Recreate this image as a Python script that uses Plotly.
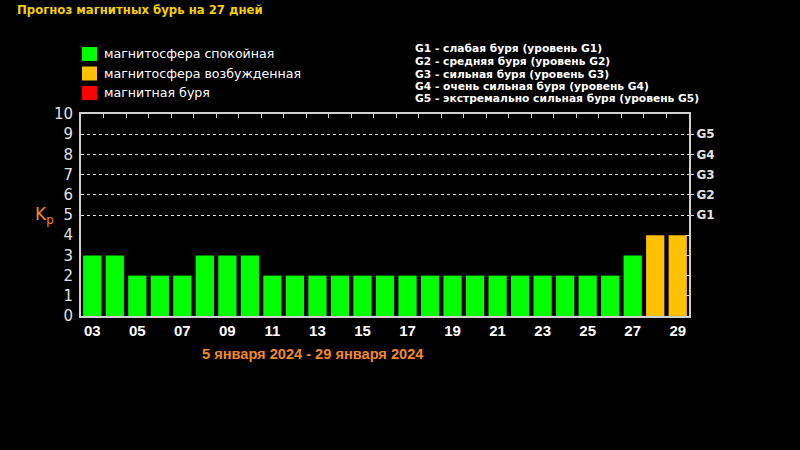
import plotly.graph_objects as go

days = ["03","04","05","06","07","08","09","10","11","12","13","14","15","16","17",
        "18","19","20","21","22","23","24","25","26","27","28","29"]
kp = [3,3,2,2,2,3,3,3,2,2,2,2,2,2,2,2,2,2,2,2,2,2,2,2,3,4,4]
g_levels = [5,6,7,8,9]
g_labels = ["G1","G2","G3","G4","G5"]
legend_text = ["магнитосфера спокойная", "магнитосфера возбужденная", "магнитная буря"]
legend_colors = ["#00ff00", "#ffc000", "#ff0000"]
g_desc = ["G1 - слабая буря (уровень G1)",
          "G2 - средняя буря (уровень G2)",
          "G3 - сильная буря (уровень G3)",
          "G4 - очень сильная буря (уровень G4)",
          "G5 - экстремально сильная буря (уровень G5)"]

def color(v):
    if v <= 3:
        return "#00ff00"
    if v == 4:
        return "#ffc000"
    return "#ff0000"

idx = list(range(len(days)))
fig = go.Figure()
fig.add_trace(go.Bar(x=idx, y=kp, marker=dict(color=[color(v) for v in kp], line=dict(width=0)),
                     hoverinfo="skip", showlegend=False))
fig.add_trace(go.Scatter(x=[0], y=[0], xaxis="x2", yaxis="y2", mode="markers",
                         marker=dict(opacity=0), showlegend=False, hoverinfo="skip"))
fig.add_trace(go.Scatter(x=[0], y=[0], xaxis="x2", yaxis="y3", mode="markers",
                         marker=dict(opacity=0), showlegend=False, hoverinfo="skip"))

frame = "#d0d0d0"
L, R, T, B = 81, 689, 114, 316
fig.update_layout(
    width=800, height=450,
    paper_bgcolor="black", plot_bgcolor="black",
    margin=dict(l=L, r=800-R, t=T, b=450-B),
    bargap=0.19,
    xaxis=dict(range=[-0.5, len(days)-0.5], tickvals=idx[::2], ticktext=days[::2],
               showgrid=False, zeroline=False, showline=True, linecolor=frame, linewidth=2,
               mirror=True, ticks="", tickfont=dict(family="Liberation Sans", size=15, color="white", weight="bold")),
    xaxis2=dict(overlaying="x", side="top", range=[-0.5, len(days)-0.5],
                tickvals=[i+0.5 for i in idx[:-1]], ticks="inside", ticklen=4, tickcolor=frame,
                showticklabels=False, showgrid=False, zeroline=False),
    yaxis=dict(range=[0, 10], tickvals=list(range(11)), showgrid=False, zeroline=False,
               showline=True, linecolor=frame, linewidth=2, mirror=True, ticks="",
               tickfont=dict(family="DejaVu Sans", size=15, color="#e0e0e0"), ticklabelstandoff=3),
    yaxis2=dict(overlaying="y", side="right", range=[0, 10], tickvals=g_levels, ticktext=g_labels,
                ticks="outside", ticklen=4, tickcolor=frame, showgrid=True, gridcolor="#e0e0e0",
                griddash="dot", gridwidth=1, zeroline=False,
                tickfont=dict(family="DejaVu Sans", size=12, color="#e0e0e0", weight="bold")),
    yaxis3=dict(overlaying="y", side="right", range=[0, 10], tickvals=[1,2,3,4],
                ticks="inside", ticklen=4, tickcolor=frame, showticklabels=False,
                showgrid=False, zeroline=False),
)

def px(x):
    return (x - L) / (R - L)

def py(y):
    return (B - y) / (B - T)

ann = []
shapes = []
ann.append(dict(x=px(15), y=py(10), text="<b>Прогноз магнитных бурь на 27 дней</b>",
                showarrow=False, xanchor="left", yanchor="middle",
                font=dict(family="DejaVu Sans", size=11.7, color="#f5d000")))
for i, (txt, col) in enumerate(zip(legend_text, legend_colors)):
    yc = 54 + i*19.5
    shapes.append(dict(type="rect", xref="paper", yref="paper", layer="above",
                       x0=px(82), x1=px(97), y0=py(yc+7), y1=py(yc-7),
                       fillcolor=col, line=dict(width=0)))
    ann.append(dict(x=px(102), y=py(yc), text=txt, showarrow=False, xanchor="left", yanchor="middle",
                    font=dict(family="DejaVu Sans", size=12.6, color="white")))
for i, txt in enumerate(g_desc):
    ann.append(dict(x=px(413), y=py(49 + i*12.5), text="<b>"+txt+"</b>", showarrow=False, xanchor="left",
                    yanchor="middle", font=dict(family="DejaVu Sans", size=10.7, color="white")))
ann.append(dict(x=px(44), y=py(215), text="K<sub>p</sub>", showarrow=False, xanchor="center", yanchor="middle",
                font=dict(family="DejaVu Sans", size=17, color="#f08a24")))
ann.append(dict(x=px(313), y=py(354), text="<b>5 января 2024 - 29 января 2024</b>", showarrow=False,
                xanchor="center", yanchor="middle",
                font=dict(family="Liberation Sans", size=14.6, color="#f08a24")))
for a in ann:
    a["xref"] = "paper"; a["yref"] = "paper"
fig.update_layout(annotations=ann, shapes=shapes)

fig.write_html("out.html")
